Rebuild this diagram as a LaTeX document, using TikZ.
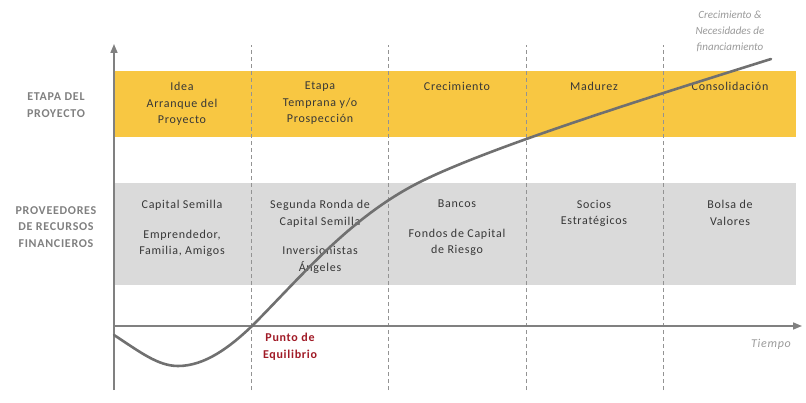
\documentclass[tikz,border=0pt]{standalone}
\usepackage{fontspec}
\setmainfont{Carlito}
\newfontfamily\ancha[LetterSpace=6]{Carlito}
\usetikzlibrary{arrows.meta}

\definecolor{etapa}{RGB}{248,199,66}
\definecolor{fondo}{RGB}{218,218,218}
\definecolor{eje}{RGB}{128,128,128}
\definecolor{curva}{RGB}{112,112,112}
\definecolor{rojo}{RGB}{160,26,38}
\definecolor{texto}{RGB}{55,55,55}

\begin{document}
\begin{tikzpicture}[x=1pt,y=1pt,
	axis/.style={draw=eje,line width=1.6pt,-{Triangle[length=9pt,width=7pt]}},
	colsep/.style={draw=eje!85,line width=0.8pt,dash pattern=on 4pt off 3pt},
	coltext/.style={anchor=north,align=center,inner sep=0pt,text=texto,
		font=\ancha\fontsize{12}{16.5}\selectfont},
	rowlabel/.style={align=center,inner sep=0pt,text=eje,
		font=\ancha\fontsize{12}{16.5}\selectfont\bfseries},
	notelabel/.style={align=center,inner sep=0pt,text=eje!80,
		font=\fontsize{11}{16}\selectfont\itshape}]

	\useasboundingbox (0,0) rectangle (806,402);

	% bands
	\fill[etapa] (114,265) rectangle (796,331);
	\fill[fondo] (114,117) rectangle (796,219);

	% column separators
	\foreach \x in {251,388,526,663}
		\draw[colsep] (\x,12) -- (\x,357);

	% row labels
	\node[rowlabel] (etapalbl) at (56,297) {ETAPA DEL\\PROYECTO};
	\node[rowlabel] (provlbl) at (56,175) {PROVEEDORES\\DE RECURSOS\\FINANCIEROS};

	% stages
	\foreach \x/\t [count=\i] in {
		182/{Idea\\Arranque del\\Proyecto},
		320/{Etapa\\Temprana y/o\\Prospección},
		457/{Crecimiento},
		594/{Madurez},
		730/{Consolidación}}
		\node[coltext] (etapa\i) at (\x,320) {\t};

	% providers
	\foreach \x/\t [count=\i] in {
		182/{Capital Semilla\\[13pt]Emprendedor,\\Familia, Amigos},
		320/{Segunda Ronda de\\Capital Semilla\\[13pt]Inversionistas\\Ángeles},
		457/{Bancos\\[13pt]Fondos de Capital\\de Riesgo},
		594/{Socios\\Estratégicos},
		730/{Bolsa de\\Valores}}
		\node[coltext] (prov\i) at (\x,202) {\t};

	% axes
	\coordinate (origen) at (114,76);
	\coordinate (ybajo) at (114,12);
	\coordinate (yalto) at (114,358);
	\coordinate (xfin) at (802,76);
	\draw[axis] (ybajo) -- (yalto);
	\draw[axis] (origen) -- (xfin);

	% growth curve
	\draw[curva,line width=2.6pt,line cap=round]
		(114,67) .. controls (140,50) and (158,36) .. (178,36)
		.. controls (205,36) and (230,55) .. (252,76)
		.. controls (300,124) and (350,185) .. (420,220)
		.. controls (490,255) and (650,305) .. (771,343);

	% notes
	\node[notelabel,font=\ancha\fontsize{12}{16}\selectfont\itshape] (tiempo) at (771,58) {Tiempo};
	\node[notelabel] (necesidades) at (730,371) {Crecimiento \&\\Necesidades de\\financiamiento};
	\node[align=center,inner sep=0pt,text=rojo,font=\ancha\fontsize{12}{17}\selectfont\bfseries]
		(equilibrio) at (290,55) {Punto de\\Equilibrio};

\end{tikzpicture}
\end{document}
